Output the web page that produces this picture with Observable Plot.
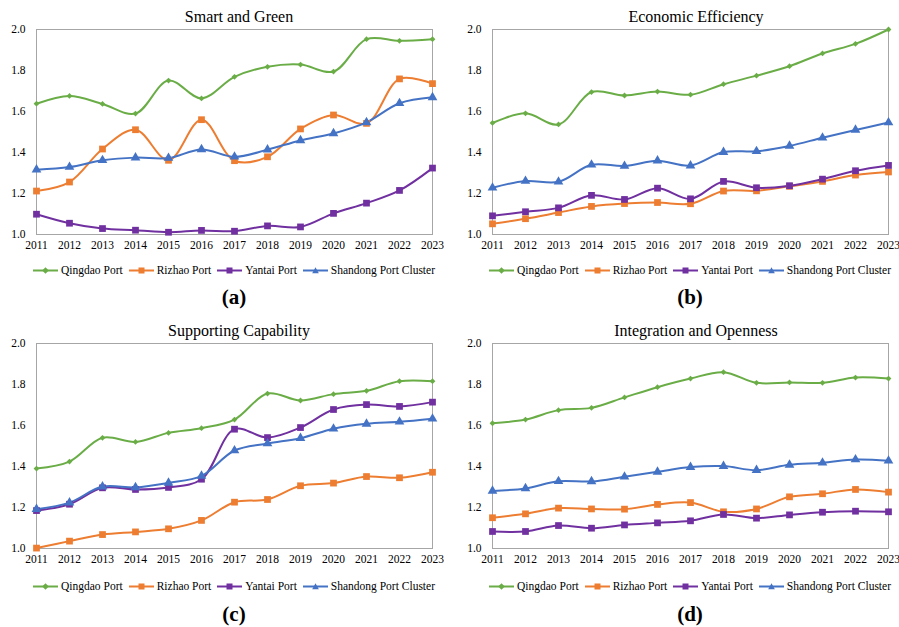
<!DOCTYPE html>
<html>
<head>
<meta charset="utf-8">
<script src="https://cdn.jsdelivr.net/npm/d3@7"></script>
<script src="https://cdn.jsdelivr.net/npm/@observablehq/plot@0.6"></script>
<style>
  html, body { margin: 0; padding: 0; background: #fff; font-family: 'Liberation Serif', 'Times New Roman', serif; }
  #page { position: relative; width: 899px; height: 627px; font-family: 'Liberation Serif', 'Times New Roman', serif; color: #000; }
  .title { position: absolute; font-family: 'Liberation Serif', serif; font-size: 16px; text-align: center; white-space: nowrap; transform: translate(-50%, -50%); }
  .chart { position: absolute; }
  .chart svg { overflow: visible; }
  .chart svg text { font-family: 'Liberation Serif', serif; }
  .legend { position: absolute; display: flex; justify-content: center; align-items: center; font-family: 'Liberation Serif', serif; font-size: 11.5px; white-space: nowrap; transform: translateY(-50%); }
  .legend .item { display: flex; align-items: center; margin: 0 3px; }
  .legend svg { margin-right: 3px; }
  .tag { position: absolute; font-family: 'Liberation Serif', serif; font-size: 21px; font-weight: bold; transform: translate(-50%, -50%); }
</style>
</head>
<body>
<div id="page"></div>
<script>
const years = [2011, 2012, 2013, 2014, 2015, 2016, 2017, 2018, 2019, 2020, 2021, 2022, 2023];
const seriesNames = ["Qingdao Port", "Rizhao Port", "Yantai Port", "Shandong Port Cluster"];
const seriesColors = ["#6aad47", "#ed7d31", "#7030a0", "#4472c4"];
const seriesSymbols = ["diamond2", "square", "square", "triangle"];
const seriesSizes = [2.6, 3.8, 3.8, 3.6];
const yTicks = [1.0, 1.2, 1.4, 1.6, 1.8, 2.0];
const panelTitles = ["Smart and Green", "Economic Efficiency", "Supporting Capability", "Integration and Openness"];
const panelTags = ["(a)", "(b)", "(c)", "(d)"];

// (a) Smart and Green
const smartQingdao  = [1.638, 1.676, 1.637, 1.590, 1.751, 1.664, 1.769, 1.818, 1.829, 1.795, 1.953, 1.945, 1.953];
const smartRizhao   = [1.212, 1.256, 1.417, 1.511, 1.362, 1.560, 1.360, 1.379, 1.515, 1.583, 1.542, 1.759, 1.736];
const smartYantai   = [1.099, 1.055, 1.029, 1.021, 1.011, 1.020, 1.016, 1.042, 1.037, 1.103, 1.153, 1.215, 1.324];
const smartCluster  = [1.316, 1.329, 1.362, 1.375, 1.373, 1.415, 1.379, 1.414, 1.459, 1.493, 1.547, 1.640, 1.669];
// (b) Economic Efficiency
const econQingdao   = [1.544, 1.591, 1.537, 1.695, 1.678, 1.697, 1.682, 1.733, 1.775, 1.821, 1.883, 1.930, 2.000];
const econRizhao    = [1.052, 1.077, 1.107, 1.137, 1.151, 1.156, 1.150, 1.212, 1.213, 1.235, 1.259, 1.290, 1.305];
const econYantai    = [1.091, 1.111, 1.130, 1.191, 1.171, 1.226, 1.174, 1.259, 1.228, 1.238, 1.270, 1.311, 1.337];
const econCluster   = [1.228, 1.261, 1.257, 1.340, 1.334, 1.360, 1.336, 1.402, 1.406, 1.432, 1.472, 1.510, 1.546];
// (c) Supporting Capability
const supQingdao    = [1.390, 1.424, 1.540, 1.520, 1.564, 1.587, 1.629, 1.756, 1.722, 1.753, 1.769, 1.816, 1.816];
const supRizhao     = [1.002, 1.036, 1.068, 1.081, 1.096, 1.137, 1.226, 1.239, 1.306, 1.319, 1.351, 1.345, 1.372];
const supYantai     = [1.185, 1.216, 1.296, 1.288, 1.298, 1.338, 1.582, 1.541, 1.590, 1.678, 1.702, 1.693, 1.714];
const supCluster    = [1.192, 1.224, 1.302, 1.298, 1.320, 1.354, 1.478, 1.512, 1.538, 1.584, 1.608, 1.618, 1.633];
// (d) Integration and Openness
const intQingdao    = [1.611, 1.629, 1.675, 1.686, 1.737, 1.787, 1.829, 1.860, 1.808, 1.810, 1.808, 1.834, 1.829];
const intRizhao     = [1.150, 1.169, 1.197, 1.193, 1.192, 1.215, 1.224, 1.179, 1.193, 1.252, 1.267, 1.288, 1.275];
const intYantai     = [1.083, 1.083, 1.112, 1.099, 1.115, 1.125, 1.135, 1.166, 1.148, 1.164, 1.177, 1.182, 1.179];
const intCluster    = [1.281, 1.293, 1.328, 1.327, 1.350, 1.374, 1.397, 1.402, 1.382, 1.408, 1.418, 1.434, 1.428];

const panelSeries = [
  [smartQingdao, smartRizhao, smartYantai, smartCluster],
  [econQingdao, econRizhao, econYantai, econCluster],
  [supQingdao, supRizhao, supYantai, supCluster],
  [intQingdao, intRizhao, intYantai, intCluster]
];

// layout of each panel (page pixels)
const layouts = [
  {left: 0,   top: 24,  width: 450, mL: 36, mR: 18, titleX: 239, titleY: 17,  legendY: 270, tagY: 297},
  {left: 450, top: 24,  width: 449, mL: 42, mR: 11, titleX: 696, titleY: 17,  legendY: 270, tagY: 297},
  {left: 0,   top: 338, width: 450, mL: 36, mR: 18, titleX: 239, titleY: 331, legendY: 586, tagY: 614},
  {left: 450, top: 338, width: 449, mL: 42, mR: 11, titleX: 696, titleY: 331, legendY: 586, tagY: 614}
];

const page = document.getElementById("page");

function legendHTML() {
  return seriesNames.map((name, i) => {
    const c = seriesColors[i];
    let marker;
    if (seriesSymbols[i] === "diamond2") marker = `<path d="M12.5,1.2L15.8,4.5L12.5,7.8L9.2,4.5Z" fill="${c}"/>`;
    else if (seriesSymbols[i] === "square") marker = `<rect x="9.5" y="1.5" width="6" height="6" fill="${c}"/>`;
    else marker = `<path d="M12.5,1.3L15.8,7.3L9.2,7.3Z" fill="${c}"/>`;
    return `<span class="item"><svg width="25" height="9" viewBox="0 0 25 9"><line x1="0" y1="4.5" x2="25" y2="4.5" stroke="${c}" stroke-width="2"/>${marker}</svg>${name}</span>`;
  }).join("");
}

layouts.forEach((L, p) => {
  const rows = [];
  panelSeries[p].forEach((vals, s) => {
    vals.forEach((v, k) => rows.push({year: years[k], value: v, series: seriesNames[s]}));
  });
  const dotMarks = seriesNames.map((name, s) =>
    Plot.dot(rows.filter(d => d.series === name), {
      x: "year", y: "value", fill: seriesColors[s], symbol: seriesSymbols[s], r: seriesSizes[s], stroke: "none"
    })
  );
  const chart = Plot.plot({
    width: L.width,
    height: 232,
    marginTop: 5,
    marginBottom: 22,
    marginLeft: L.mL,
    marginRight: L.mR,
    style: {fontFamily: "'Liberation Serif', serif", fontSize: "11.5px", color: "#000", background: "transparent", overflow: "visible"},
    x: {domain: [2011, 2023], ticks: years, tickFormat: "d", tickSize: 0, tickPadding: 6, label: null},
    y: {domain: [1, 2], ticks: yTicks, tickFormat: ".1f", tickSize: 0, tickPadding: 11, label: null},
    color: {domain: seriesNames, range: seriesColors},
    marks: [
      Plot.frame({stroke: "#a6a6a6", strokeWidth: 1}),
      Plot.line(rows, {x: "year", y: "value", z: "series", stroke: "series", curve: "catmull-rom", strokeWidth: 2}),
      ...dotMarks
    ]
  });
  const wrap = document.createElement("div");
  wrap.className = "chart";
  wrap.style.left = L.left + "px";
  wrap.style.top = L.top + "px";
  wrap.style.width = L.width + "px";
  wrap.appendChild(chart);
  page.appendChild(wrap);

  const t = document.createElement("div");
  t.className = "title";
  t.style.left = L.titleX + "px";
  t.style.top = L.titleY + "px";
  t.textContent = panelTitles[p];
  page.appendChild(t);

  const lg = document.createElement("div");
  lg.className = "legend";
  lg.style.left = (L.left + L.mL - 8) + "px";
  lg.style.width = (L.width - L.mL - L.mR + 16) + "px";
  lg.style.top = L.legendY + "px";
  lg.innerHTML = legendHTML();
  page.appendChild(lg);

  const tg = document.createElement("div");
  tg.className = "tag";
  tg.style.left = (L.left + L.mL + (L.width - L.mL - L.mR) / 2) + "px";
  tg.style.top = L.tagY + "px";
  tg.textContent = panelTags[p];
  page.appendChild(tg);
});
</script>
</body>
</html>
